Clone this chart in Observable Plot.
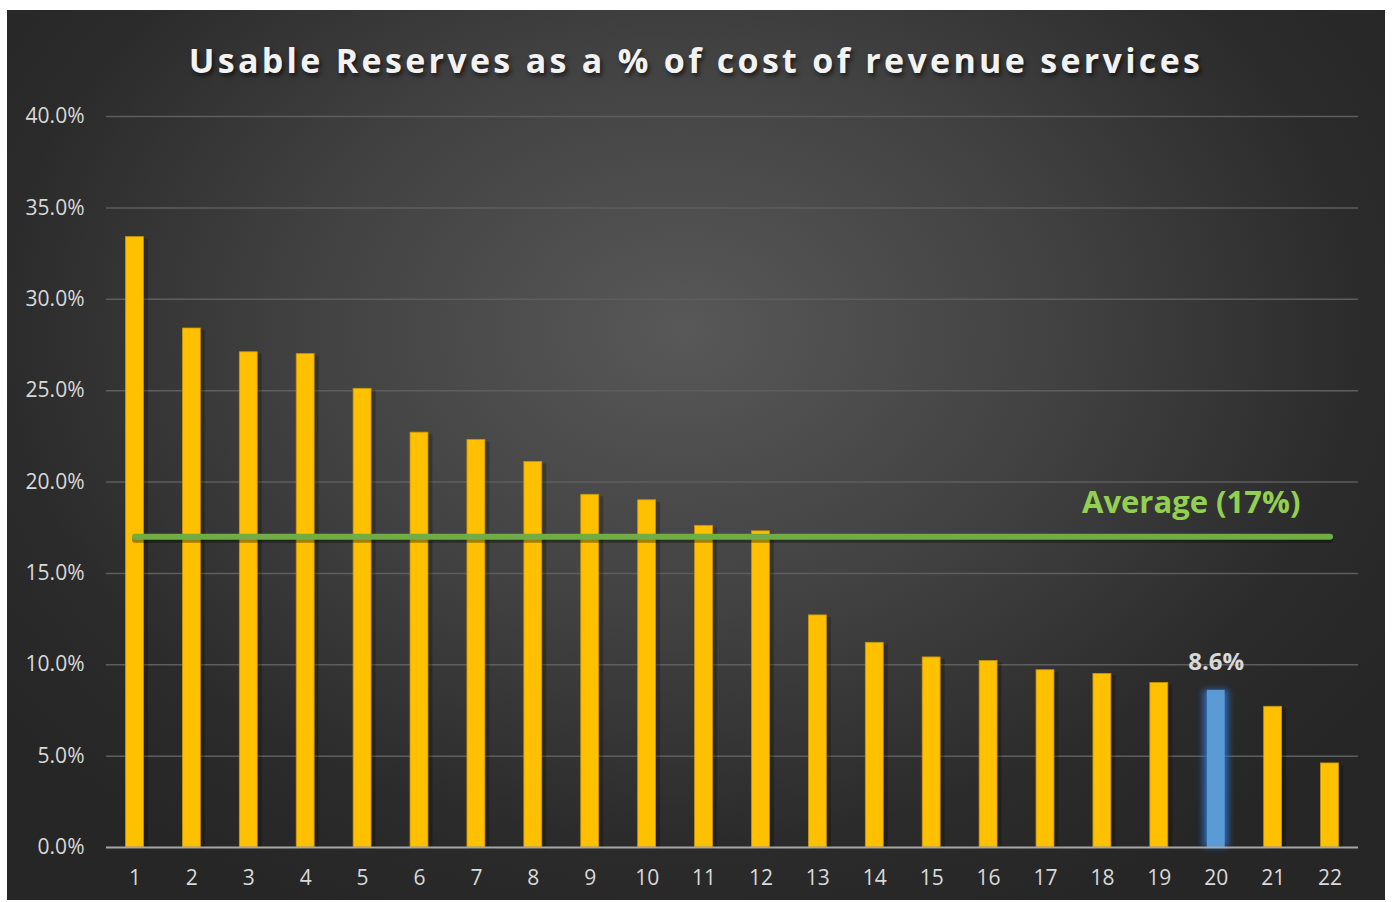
<!DOCTYPE html>
<html><head><meta charset="utf-8">
<script src="https://cdn.jsdelivr.net/npm/d3@7"></script>
<script src="https://cdn.jsdelivr.net/npm/@observablehq/plot@0.6"></script>
<style>
body{margin:0;background:#fff;}
#frame{position:absolute;left:7px;top:10px;width:1378px;height:890px;overflow:hidden;
 background:radial-gradient(ellipse 62% 72% at 49% 36%, #585858 0%, #414141 45%, #2b2b2b 80%, #262626 100%);}
#title{position:absolute;left:0;top:27px;width:100%;text-align:center;color:#f2f2f2;
 font-family:"Open Sans",sans-serif;font-weight:700;font-size:34px;letter-spacing:3.3px;line-height:46px;
 text-shadow:2px 3px 4px rgba(0,0,0,0.6);}
#chart{position:absolute;left:0;top:80px;}
#chart svg{overflow:visible;}
</style></head>
<body>
<div id="frame"><div id="title">Usable Reserves as a % of cost of revenue services</div><div id="chart"></div></div>
<script>
const categories = ["1","2","3","4","5","6","7","8","9","10","11","12","13","14","15","16","17","18","19","20","21","22"];
const values = [33.4, 28.4, 27.1, 27.0, 25.1, 22.7, 22.3, 21.1, 19.3, 19.0, 17.6, 17.3, 12.7, 11.2, 10.4, 10.2, 9.7, 9.5, 9.0, 8.6, 7.7, 4.6];
const yTicks = [0, 5, 10, 15, 20, 25, 30, 35, 40];
const average = 17;
const averageLabel = "Average (17%)";
const highlight = "20";

const data = categories.map((c, i) => ({cat: c, v: values[i]}));
const hi = data.filter(d => d.cat === highlight);
const rest = data.filter(d => d.cat !== highlight);
const avgLine = [{cat: categories[0], v: average}, {cat: categories[categories.length - 1], v: average}];

const font = "'Open Sans', sans-serif";
const chart = Plot.plot({
  width: 1378,
  height: 810,
  marginLeft: 99,
  marginRight: 27,
  marginTop: 26,
  marginBottom: 53,
  style: {background: "transparent", color: "#d9d9d9", fontFamily: font, fontSize: "21px"},
  x: {type: "band", domain: categories, padding: 0, round: false, label: null, tickSize: 0, tickPadding: 23},
  y: {domain: [0, 40], ticks: yTicks, tickFormat: d => d.toFixed(1) + "%", label: null, tickSize: 0, tickPadding: 22},
  marks: [
    Plot.ruleY(yTicks.filter(t => t > 0), {stroke: "#5e5e5e", strokeWidth: 1.5}),
    Plot.barY(rest, {x: "cat", y: "v", fill: "#000", fillOpacity: 0.22, insetLeft: 20, insetRight: 17, dx: 2, dy: 2}),
    Plot.barY(rest, {x: "cat", y: "v", fill: "#FFC000", stroke: "#C99700", strokeWidth: 0.8, insetLeft: 19.5, insetRight: 19.5}),
    Plot.barY(hi, {x: "cat", y: "v", fill: "#2f6fc4", fillOpacity: 0.9, insetLeft: 16, insetRight: 16}),
    Plot.barY(hi, {x: "cat", y: "v", fill: "#5B9BD5", insetLeft: 19.5, insetRight: 19.5}),
    Plot.ruleY([0], {stroke: "#a6a6a6", strokeWidth: 2}),
    Plot.line(avgLine, {x: "cat", y: "v", stroke: "#000", strokeOpacity: 0.35, strokeWidth: 6, strokeLinecap: "round", dy: 3}),
    Plot.line(avgLine, {x: "cat", y: "v", stroke: "#70AD47", strokeWidth: 6, strokeLinecap: "round"}),
    Plot.text([averageLabel], {x: () => highlight, y: () => average, text: d => d, dx: -25, dy: -34, fill: "#92D050", fontSize: 31, fontWeight: "bold"}),
    Plot.text(hi, {x: "cat", y: "v", text: d => d.v.toFixed(1) + "%", dy: -28, fill: "#d9d9d9", fontSize: 24, fontWeight: "bold"})
  ]
});
// larger axis tick labels
chart.querySelectorAll('g[aria-label*="axis"]').forEach(g => {
  g.setAttribute("font-size", "21");
  g.style.fontSize = "21px";
  g.querySelectorAll("text").forEach(t => { t.style.fontSize = "21px"; t.setAttribute("fill", "#d9d9d9"); });
});
// soft glow on the highlighted bar
const svgNS = "http://www.w3.org/2000/svg";
const defs = document.createElementNS(svgNS, "defs");
defs.innerHTML = '<filter id="glow" x="-100%" y="-10%" width="300%" height="120%"><feGaussianBlur stdDeviation="3"/></filter>';
chart.insertBefore(defs, chart.firstChild);
const barGroups = chart.querySelectorAll('g[aria-label="bar"]');
if (barGroups.length >= 3) barGroups[2].setAttribute("filter", "url(#glow)");
document.getElementById("chart").appendChild(chart);
</script>
</body></html>
